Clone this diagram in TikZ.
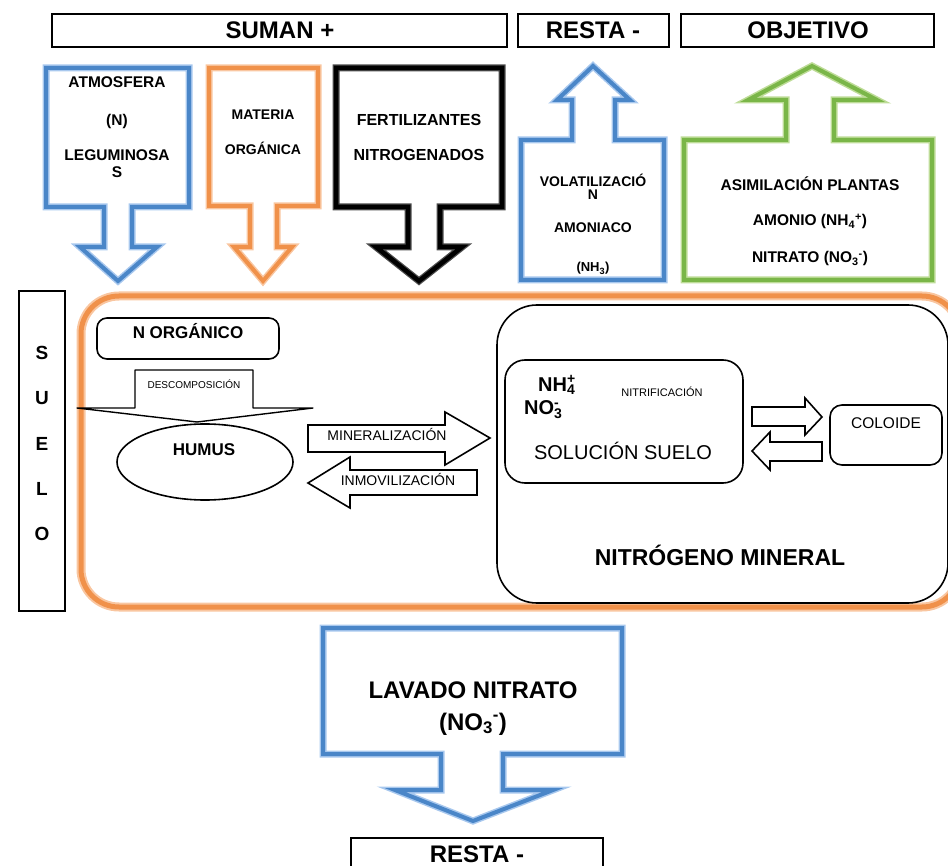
\documentclass[tikz,border=0pt]{standalone}
\usepackage{fontspec}
\setmainfont{Liberation Sans}
\definecolor{blueM}{HTML}{4A86C8}
\definecolor{blueL}{HTML}{A8C8EE}
\definecolor{oraM}{HTML}{F0914A}
\definecolor{oraL}{HTML}{F9C6A0}
\definecolor{grnM}{HTML}{7AB648}
\definecolor{grnL}{HTML}{BEDC98}
\begin{document}
\begin{tikzpicture}[x=1pt,y=-1pt,line join=miter,
  lb/.style={font=\fontsize{#1}{#1}\selectfont\bfseries,inner sep=0pt,anchor=base},
  lr/.style={font=\fontsize{#1}{#1}\selectfont,inner sep=0pt,anchor=base},
  titlebox/.style={draw=black,line width=2.4pt},
  bluearrow/.style={draw=blueM,line width=4pt,preaction={draw=blueL,line width=7pt}},
  oraarrow/.style={draw=oraM,line width=4pt,preaction={draw=oraL,line width=7pt}},
  blkarrow/.style={draw=black,line width=4.5pt,preaction={draw=black!70,line width=7pt}},
  grnarrow/.style={draw=grnM,line width=4pt,preaction={draw=grnL,line width=7pt}},
  thin/.style={draw=black,line width=1.6pt},
]
\useasboundingbox (0,0) rectangle (948,866);

% ---- title boxes
\draw[titlebox] (52,14) rectangle (507,47);
\draw[titlebox] (518,14) rectangle (669,47);
\draw[titlebox] (681,14) rectangle (934,47);
\node[lb=24] (suman) at (280,39) {SUMAN +};
\node[lb=24] (resta) at (593,39) {RESTA -};
\node[lb=24] (obj) at (808,39) {OBJETIVO};

% ---- down callouts
\draw[bluearrow] (46,68) -- (189,68) -- (189,207) -- (132,207) -- (132,247) -- (157,247)
  -- (118,281) -- (80,247) -- (104,247) -- (104,207) -- (46,207) -- cycle;
\draw[oraarrow] (209,68) -- (318,68) -- (318,206) -- (277,206) -- (277,247) -- (292,247)
  -- (263,281) -- (234,247) -- (250,247) -- (250,206) -- (209,206) -- cycle;
\draw[blkarrow] (336,68) -- (502,68) -- (502,207) -- (440,207) -- (440,247) -- (462,247)
  -- (419,281) -- (376,247) -- (408,247) -- (408,207) -- (336,207) -- cycle;

\node[lb=15.5] (atm) at (117,88) {ATMOSFERA};
\node[lb=15.5] (nn) at (117,126) {(N)};
\node[lb=15.5] (leg) at (117,161) {LEGUMINOSA};
\node[lb=15.5] (legs) at (117,178) {S};
\node[lb=14] (mat) at (263,120) {MATERIA};
\node[lb=14] (org) at (263,155) {ORGÁNICA};
\node[lb=16] (fer) at (419,126) {FERTILIZANTES};
\node[lb=16] (nit) at (419,161) {NITROGENADOS};

% ---- up callouts
\draw[bluearrow] (521,140) -- (572,140) -- (572,100) -- (557,100) -- (593,66) -- (630,100)
  -- (615,100) -- (615,140) -- (664,140) -- (664,280) -- (521,280) -- cycle;
\draw[grnarrow] (684,140) -- (786,140) -- (786,100) -- (748,100) -- (812,66) -- (877,100)
  -- (834,100) -- (834,140) -- (932,140) -- (932,280) -- (684,280) -- cycle;

\node[lb=14] (vol) at (593,187) {VOLATILIZACIÓ};
\node[lb=14] (voln) at (593,200) {N};
\node[lb=14] (amo) at (593,233) {AMONIACO};
\node[lb=13] (nh3) at (593,272) {(NH\textsubscript{3})};
\node[lb=15.5] (asi) at (810,191) {ASIMILACIÓN PLANTAS};
\node[lb=15.5] (amon) at (810,226) {AMONIO (NH\textsubscript{4}\textsuperscript{+})};
\node[lb=15.5] (nitr) at (810,263) {NITRATO (NO\textsubscript{3}\textsuperscript{-})};

% ---- SUELO box
\draw[titlebox,line width=2pt] (19,291) rectangle (65,611);
\foreach \l/\y in {S/360,U/405,E/450,L/495,O/540}
  \node[lb=19] (suelo\l) at (42,\y) {\l};

% ---- big orange rounded box
\draw[draw=oraM,line width=5pt,rounded corners=38pt,preaction={draw=oraL,line width=9pt}]
  (81,296) rectangle (960,607);

% ---- N organico
\draw[thin,rounded corners=10pt] (97,318) rectangle (279,359);
\node[lb=17] (norg) at (188,339) {N ORGÁNICO};

% descomposicion arrow
\draw[thin,line width=1.4pt,line join=round] (135,370) -- (253,370) -- (253,408) -- (313,408)
  -- (197,422) -- (77,408) -- (135,408) -- cycle;
\node[lr=10] (desc) at (194,388.5) {DESCOMPOSICIÓN};

% humus
\draw[thin] (205,462) ellipse [x radius=88,y radius=38];
\node[lb=17] (humus) at (204,456) {HUMUS};

% mineralizacion / inmovilizacion
\draw[thin] (308,425) -- (445,425) -- (445,412) -- (490,438) -- (445,465) -- (445,452)
  -- (308,452) -- cycle;
\node[lr=14] (min) at (387,440) {MINERALIZACIÓN};
\draw[thin] (477,470) -- (350,470) -- (350,457) -- (308,483) -- (350,508) -- (350,495)
  -- (477,495) -- cycle;
\node[lr=14] (inm) at (398,485) {INMOVILIZACIÓN};

% ---- nitrogeno mineral
\draw[thin,rounded corners=40pt] (497,305) rectangle (948,603);
\node[lb=23] (nmin) at (720,565) {NITRÓGENO MINERAL};

\draw[thin,rounded corners=20pt] (505,360) rectangle (743,483);
\node[font=\fontsize{20}{24}\selectfont\bfseries,inner sep=0pt,align=left,anchor=base west]
  (ions) at (524,415) {\hspace*{14pt}NH\rlap{\textsubscript{4}}\textsuperscript{+}\\NO\rlap{\textsubscript{3}}\textsuperscript{-}};
\node[lr=11] (nitrif) at (662,397) {NITRIFICACIÓN};
\node[lr=20] (sol) at (623,460) {SOLUCIÓN SUELO};

\draw[thin,rounded corners=12pt] (830,405) rectangle (942,465);
\node[lr=15.5] (col) at (886,428.5) {COLOIDE};

\draw[thin] (752,407) -- (805,407) -- (805,398) -- (822,417) -- (805,435) -- (805,426)
  -- (752,426) -- cycle;
\draw[thin] (822,442) -- (770,442) -- (770,432) -- (752,451) -- (770,470) -- (770,461)
  -- (822,461) -- cycle;

% ---- lavado
\draw[bluearrow] (323,628) -- (622,628) -- (622,754) -- (503,754) -- (503,790) -- (553,790)
  -- (473,821) -- (395,790) -- (441,790) -- (441,754) -- (323,754) -- cycle;
\node[lb=24] (lav) at (473,698.5) {LAVADO NITRATO};
\node[lb=24] (lavno) at (473,730) {(NO\textsubscript{3}\textsuperscript{-})};

\draw[titlebox] (351,838) rectangle (603,872);
\node[lb=24] (resta2) at (477,862) {RESTA -};
\end{tikzpicture}
\end{document}
